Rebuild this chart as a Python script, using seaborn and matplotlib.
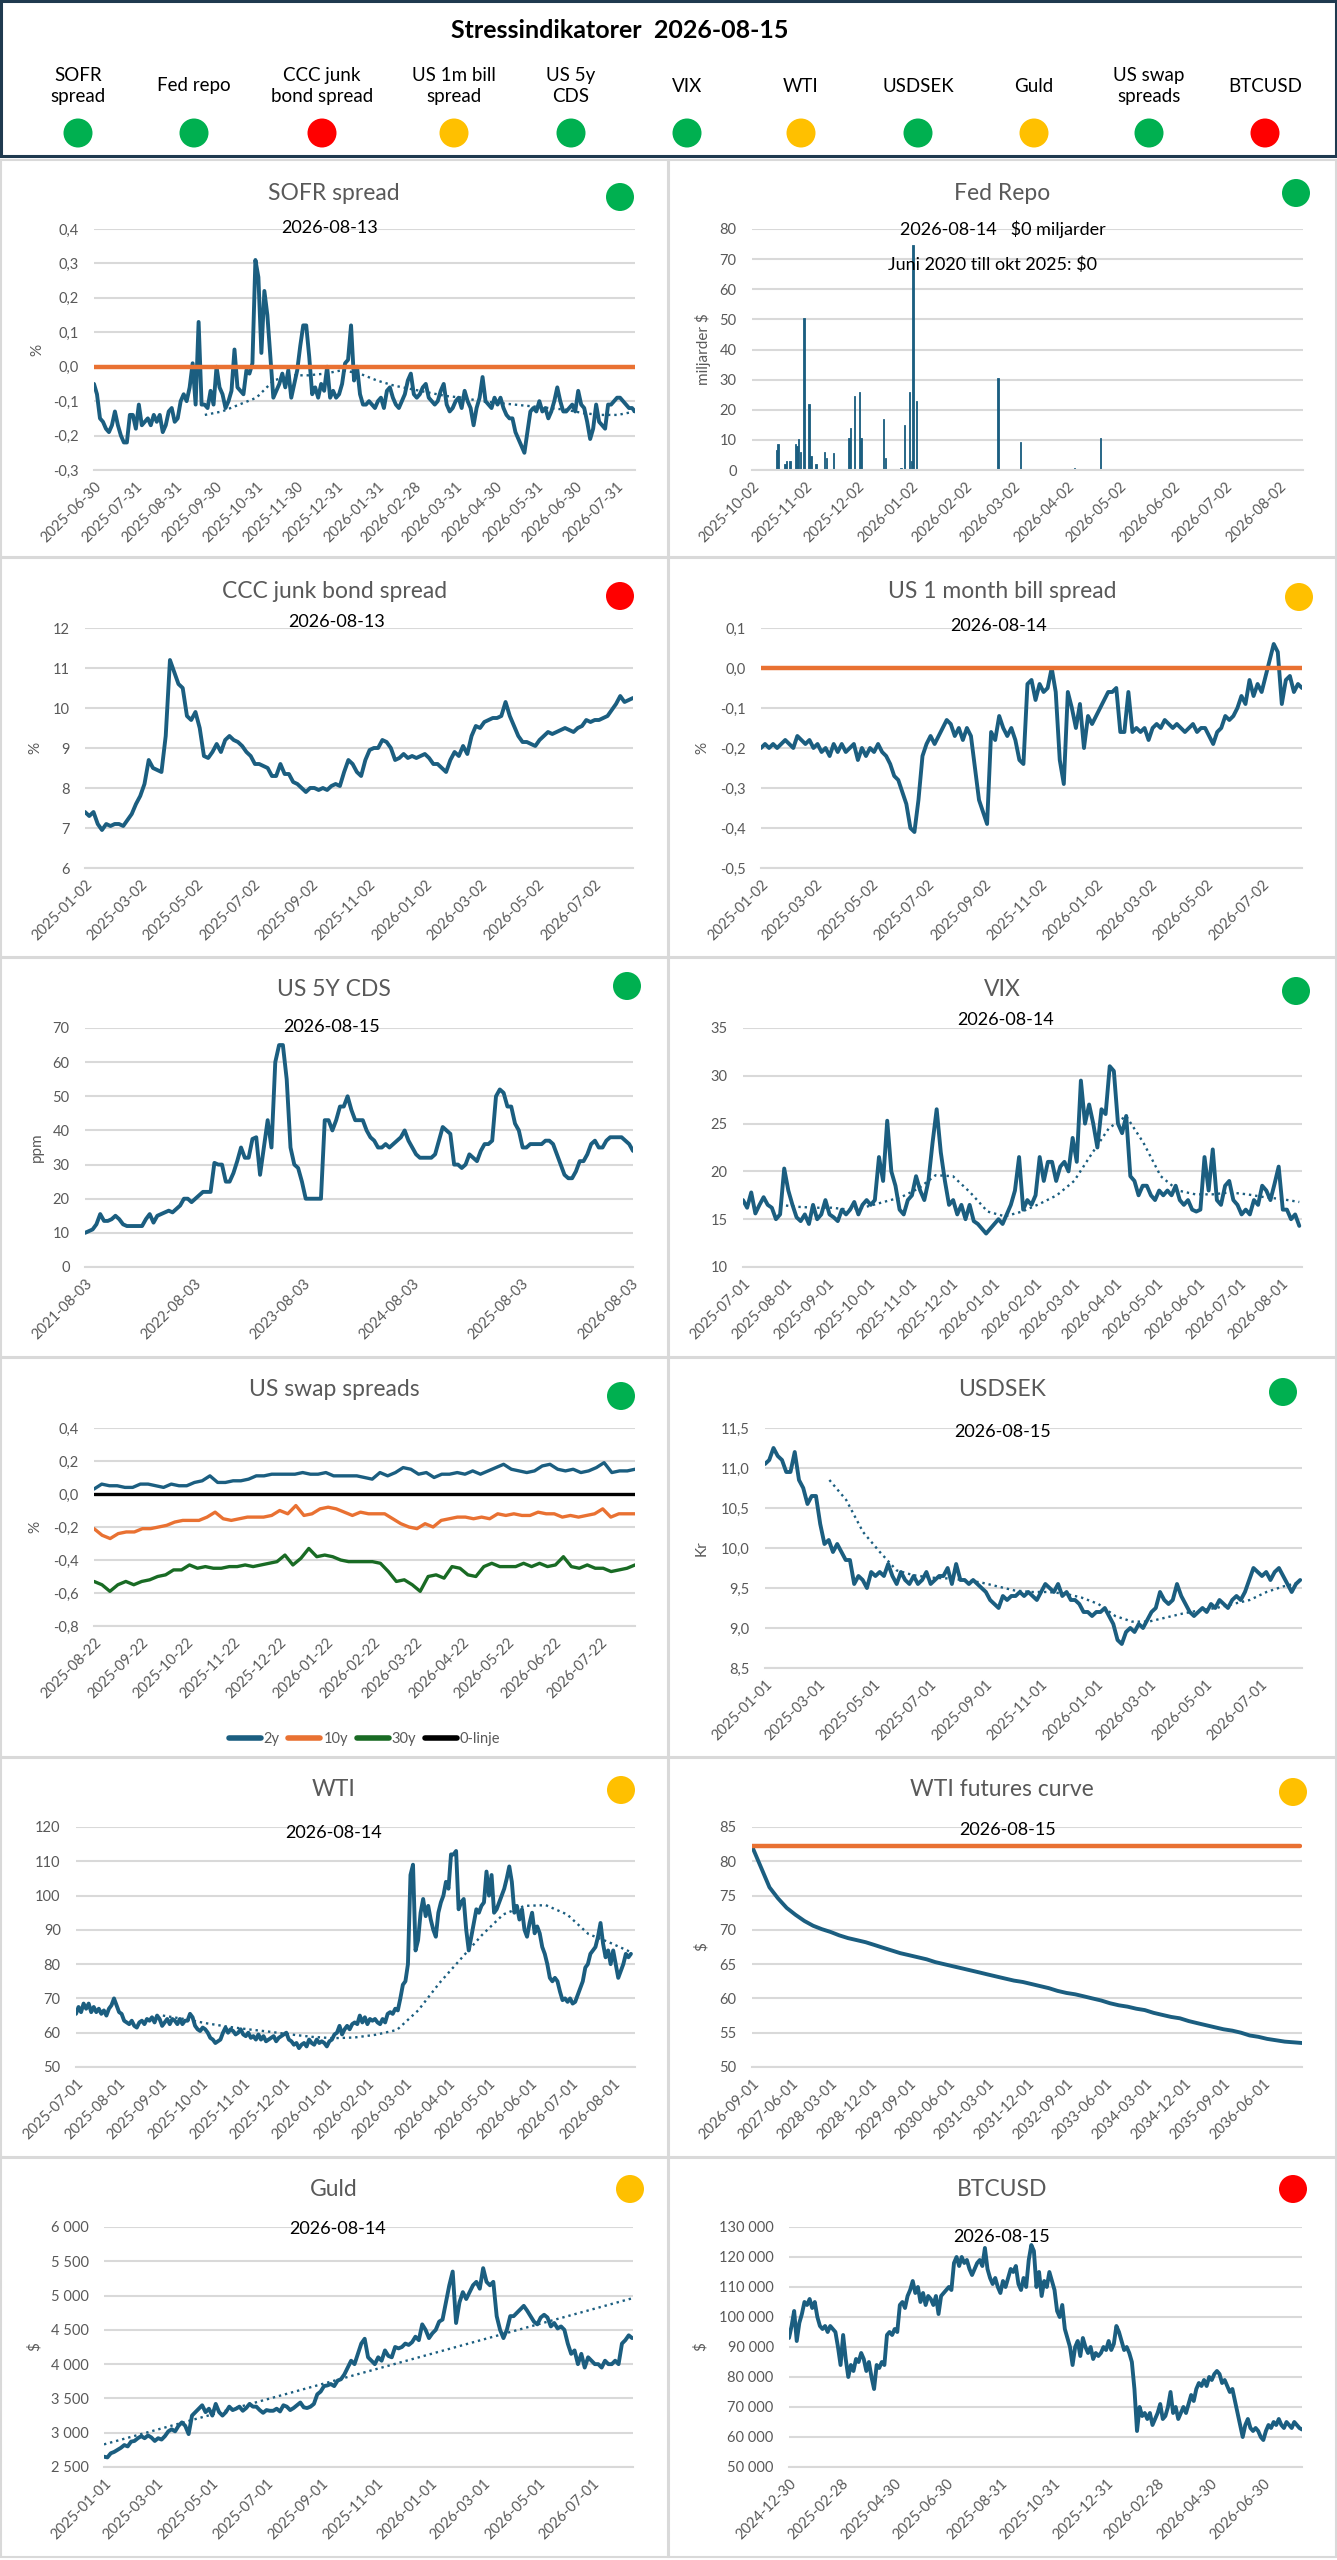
import numpy as np
import pandas as pd
import matplotlib
matplotlib.use('Agg')
import matplotlib.pyplot as plt
from matplotlib.patches import Rectangle, Circle
from matplotlib.ticker import FuncFormatter, MultipleLocator
import seaborn as sns

# ---------------- data ----------------
report_date = '2026-08-15'
header_names = ['SOFR\nspread', 'Fed repo', 'CCC junk\nbond spread', 'US 1m bill\nspread', 'US 5y\nCDS',
                'VIX', 'WTI', 'USDSEK', 'Guld', 'US swap\nspreads', 'BTCUSD']
header_status = ['g', 'g', 'r', 'y', 'g', 'g', 'y', 'g', 'y', 'g', 'r']

sofr = [-0.05, -0.08, -0.15, -0.16, -0.18, -0.19, -0.17, -0.13, -0.17, -0.20, -0.22, -0.22, -0.14, -0.14,
        -0.18, -0.11, -0.17, -0.16, -0.15, -0.17, -0.14, -0.16, -0.14, -0.19, -0.17, -0.13, -0.12, -0.16,
        -0.15, -0.10, -0.08, -0.10, -0.06, 0.01, -0.11, 0.13, -0.11, -0.11, -0.12, -0.07, -0.11, 0.00,
        -0.06, -0.08, -0.12, -0.10, -0.07, 0.05, -0.06, -0.07, -0.08, -0.01, -0.02, 0.01, 0.31, 0.26,
        0.04, 0.22, 0.15, 0.03, -0.09, -0.07, -0.05, -0.02, -0.06, -0.01, -0.09, -0.05, -0.01, 0.06,
        0.12, 0.12, 0.03, -0.08, -0.06, -0.09, -0.05, -0.07, 0.00, -0.09, -0.07, -0.09, -0.08, -0.05,
        0.01, 0.02, 0.12, -0.04, 0.00, -0.08, -0.11, -0.11, -0.10, -0.11, -0.12, -0.10, -0.09, -0.12,
        -0.07, -0.06, -0.09, -0.11, -0.12, -0.10, -0.08, -0.04, -0.02, -0.08, -0.09, -0.08, -0.06, -0.05,
        -0.09, -0.10, -0.11, -0.10, -0.07, -0.05, -0.11, -0.13, -0.12, -0.10, -0.09, -0.12, -0.07, -0.10,
        -0.12, -0.17, -0.12, -0.09, -0.03, -0.10, -0.11, -0.12, -0.09, -0.11, -0.09, -0.12, -0.14, -0.15,
        -0.15, -0.19, -0.21, -0.23, -0.25, -0.19, -0.13, -0.12, -0.13, -0.10, -0.13, -0.12, -0.15, -0.13,
        -0.10, -0.06, -0.10, -0.13, -0.13, -0.12, -0.11, -0.13, -0.07, -0.11, -0.12, -0.16, -0.21, -0.18,
        -0.11, -0.16, -0.17, -0.18, -0.11, -0.11, -0.10, -0.09, -0.09, -0.10, -0.11, -0.12, -0.12, -0.13]
sofr_ma = [-0.14, -0.13, -0.11, -0.09, -0.04, -0.025, -0.025, -0.02, -0.01, -0.02, -0.04, -0.055, -0.065,
           -0.075, -0.085, -0.09, -0.10, -0.105, -0.11, -0.115, -0.12, -0.125, -0.135, -0.14, -0.14, -0.13]

repo_dates = ['2025-10-16', '2025-10-17', '2025-10-21', '2025-10-22', '2025-10-24', '2025-10-27', '2025-10-28',
              '2025-10-29', '2025-10-30', '2025-11-01', '2025-11-04', '2025-11-05', '2025-11-08', '2025-11-13',
              '2025-11-14', '2025-11-18', '2025-11-27', '2025-11-28', '2025-11-30', '2025-12-03', '2025-12-04',
              '2025-12-17', '2025-12-18', '2025-12-27', '2025-12-29', '2026-01-01', '2026-01-02', '2026-01-03',
              '2026-01-05', '2026-02-21', '2026-03-06', '2026-04-06', '2026-04-21']
repo_vals = [6.8, 8.5, 2, 3, 3, 8.5, 8, 10.3, 6, 50.3, 22, 4.8, 2, 6, 4, 5.5, 10.5, 14, 24.5, 26, 10.5,
             16.8, 4, 0.5, 14.8, 26, 3, 74.6, 22.8, 30.5, 9.2, 0.8, 10.7]

ccc = [7.4, 7.3, 7.4, 7.1, 6.95, 7.1, 7.05, 7.1, 7.1, 7.05, 7.2, 7.35, 7.6, 7.8, 8.1, 8.7, 8.5, 8.45, 8.4,
       9.3, 11.2, 10.9, 10.6, 10.5, 9.8, 9.7, 9.9, 9.5, 8.8, 8.75, 8.9, 9.1, 8.9, 9.2, 9.3, 9.2, 9.15, 9.05,
       8.9, 8.8, 8.6, 8.6, 8.55, 8.5, 8.3, 8.3, 8.6, 8.35, 8.35, 8.15, 8.1, 8.0, 7.9, 8.0, 8.0, 7.95, 8.0,
       7.95, 8.05, 8.1, 8.05, 8.4, 8.7, 8.6, 8.4, 8.3, 8.7, 8.95, 9.0, 9.0, 9.2, 9.15, 9.0, 8.7, 8.75, 8.85,
       8.75, 8.8, 8.75, 8.8, 8.85, 8.75, 8.6, 8.6, 8.5, 8.4, 8.7, 8.9, 8.8, 9.05, 8.85, 9.3, 9.55, 9.5, 9.65,
       9.7, 9.75, 9.75, 9.8, 10.15, 9.8, 9.55, 9.3, 9.15, 9.15, 9.1, 9.05, 9.2, 9.3, 9.4, 9.35, 9.4, 9.45,
       9.5, 9.45, 9.4, 9.5, 9.55, 9.7, 9.65, 9.7, 9.7, 9.75, 9.8, 9.95, 10.1, 10.3, 10.15, 10.2, 10.25]

bill = [-0.20, -0.19, -0.20, -0.19, -0.20, -0.19, -0.18, -0.19, -0.20, -0.17, -0.18, -0.19, -0.18, -0.20,
        -0.19, -0.21, -0.20, -0.22, -0.19, -0.21, -0.19, -0.21, -0.20, -0.19, -0.23, -0.20, -0.22, -0.20,
        -0.21, -0.19, -0.21, -0.22, -0.24, -0.27, -0.28, -0.31, -0.34, -0.40, -0.41, -0.33, -0.22, -0.19,
        -0.17, -0.19, -0.17, -0.15, -0.13, -0.14, -0.17, -0.15, -0.18, -0.15, -0.17, -0.25, -0.33, -0.36,
        -0.39, -0.16, -0.18, -0.12, -0.15, -0.17, -0.15, -0.18, -0.23, -0.24, -0.04, -0.03, -0.08, -0.04,
        -0.06, -0.05, 0.00, -0.06, -0.23, -0.29, -0.06, -0.10, -0.15, -0.09, -0.20, -0.12, -0.14, -0.12,
        -0.10, -0.08, -0.06, -0.06, -0.05, -0.16, -0.16, -0.06, -0.16, -0.15, -0.16, -0.15, -0.18, -0.15,
        -0.14, -0.15, -0.13, -0.14, -0.15, -0.14, -0.15, -0.16, -0.15, -0.14, -0.16, -0.15, -0.15, -0.17,
        -0.19, -0.16, -0.15, -0.12, -0.13, -0.12, -0.10, -0.07, -0.09, -0.03, -0.07, -0.04, -0.06, -0.02,
        0.02, 0.06, 0.04, -0.09, -0.03, -0.02, -0.06, -0.04, -0.05]

cds = [10, 10.5, 11, 12.5, 15.5, 13.5, 13.5, 14, 15, 14, 12.5, 12, 12, 12, 12, 12, 14, 15.5, 13, 15, 15.5,
       16, 16.5, 16, 17, 18, 20, 20, 19, 20, 21, 22, 22, 22, 30.5, 30, 30, 25, 25, 27.5, 31, 35, 32, 32,
       37.5, 38, 27, 35, 43, 35, 60, 65, 65, 55, 35, 30, 29, 25, 20, 20, 20, 20, 20, 43, 43, 40, 43, 47,
       47, 50, 46, 43, 43, 43, 40, 38, 37, 35, 35, 36, 35, 36, 37, 38, 40, 37, 35, 33, 32, 32, 32, 32, 33,
       37, 41, 40, 39, 30, 30, 29, 30, 33, 32, 31, 34, 36, 36, 37, 50, 52, 51, 47, 47, 42, 40, 35, 35, 36,
       36, 36, 36, 37, 37, 36, 33, 30, 27, 26, 26, 28, 31, 31, 33, 36, 37, 35, 35, 37, 38, 38, 38, 38, 37,
       36, 34]

vix = [17, 16.2, 17.8, 15.6, 16.5, 17.3, 16.5, 16.2, 15, 15.5, 20.3, 18, 16.5, 15.2, 14.8, 15.5, 14.5, 16.5,
       15, 15.5, 17, 15.5, 15.2, 14.8, 16, 15.5, 16, 16.8, 15.5, 16.5, 17, 16.5, 17, 21.5, 19, 25.3, 20,
       18.5, 16, 15.5, 17, 17.5, 19.5, 18, 17, 19, 23, 26.5, 22, 19, 16.5, 17, 15.5, 16.5, 15, 16.5, 14.8,
       14.5, 14, 13.5, 14, 14.5, 15, 14.5, 15.5, 16.5, 18, 21.5, 16, 17, 16.5, 17.5, 21.5, 19, 21, 21, 19,
       20.5, 21, 20, 23.5, 21, 29.5, 25, 27, 25, 22.5, 26.5, 26, 31, 30.5, 25, 24, 25.8, 19.5, 19, 17.5,
       18.5, 18.5, 17.5, 17, 18, 17.5, 18, 17.5, 18.5, 17, 16.5, 17, 16, 15.8, 16, 21.5, 18, 22.3, 17, 16.5,
       18.5, 19, 17, 16.5, 15.5, 16, 15.5, 17, 16.5, 18.5, 18, 17, 18.7, 20.5, 16, 16, 15, 15.5, 14.3]
vix_ma = [16.5, 16.3, 16.2, 16.2, 16.0, 16.3, 16.8, 17.3, 18.2, 19.6, 19.5, 17.8, 15.8, 15.3, 15.8, 16.6,
          17.5, 19.0, 21.8, 24.5, 25.8, 23.0, 19.5, 18.0, 17.6, 17.6, 17.8, 17.6, 17.3, 17.1, 16.8]

swap_2y = [0.03, 0.06, 0.05, 0.05, 0.04, 0.04, 0.06, 0.06, 0.05, 0.04, 0.06, 0.05, 0.05, 0.07, 0.08, 0.11,
           0.07, 0.07, 0.08, 0.08, 0.09, 0.11, 0.11, 0.12, 0.12, 0.12, 0.12, 0.13, 0.12, 0.12, 0.13, 0.11,
           0.11, 0.11, 0.11, 0.10, 0.09, 0.13, 0.11, 0.13, 0.16, 0.15, 0.12, 0.13, 0.10, 0.12, 0.12, 0.13,
           0.12, 0.14, 0.12, 0.14, 0.16, 0.18, 0.15, 0.14, 0.13, 0.14, 0.17, 0.18, 0.15, 0.14, 0.15, 0.13,
           0.14, 0.16, 0.19, 0.13, 0.14, 0.14, 0.15]
swap_10y = [-0.21, -0.25, -0.27, -0.24, -0.23, -0.23, -0.21, -0.21, -0.20, -0.19, -0.17, -0.16, -0.16, -0.16,
            -0.14, -0.11, -0.15, -0.16, -0.15, -0.14, -0.14, -0.14, -0.13, -0.10, -0.12, -0.07, -0.13, -0.12,
            -0.09, -0.08, -0.09, -0.11, -0.13, -0.11, -0.12, -0.12, -0.12, -0.15, -0.18, -0.20, -0.21, -0.18,
            -0.20, -0.16, -0.15, -0.14, -0.14, -0.15, -0.14, -0.15, -0.12, -0.13, -0.12, -0.13, -0.13, -0.11,
            -0.12, -0.12, -0.14, -0.13, -0.14, -0.13, -0.12, -0.09, -0.14, -0.12, -0.12, -0.12]
swap_30y = [-0.53, -0.55, -0.59, -0.55, -0.53, -0.55, -0.53, -0.52, -0.50, -0.49, -0.46, -0.46, -0.43, -0.45,
            -0.44, -0.45, -0.45, -0.44, -0.44, -0.43, -0.44, -0.43, -0.42, -0.41, -0.37, -0.43, -0.39, -0.33,
            -0.38, -0.37, -0.38, -0.40, -0.41, -0.41, -0.41, -0.41, -0.42, -0.47, -0.53, -0.52, -0.55, -0.59,
            -0.50, -0.49, -0.51, -0.44, -0.45, -0.49, -0.50, -0.44, -0.42, -0.44, -0.44, -0.44, -0.42, -0.44,
            -0.42, -0.44, -0.43, -0.38, -0.44, -0.45, -0.43, -0.45, -0.45, -0.47, -0.46, -0.45, -0.43]
swap_zero = [0.0, 0.0]

usdsek = [11.05, 11.1, 11.25, 11.15, 11.1, 10.95, 10.95, 11.2, 10.85, 10.75, 10.55, 10.65, 10.65, 10.3, 10.05,
          10.1, 9.95, 10.05, 9.95, 9.85, 9.85, 9.55, 9.65, 9.6, 9.5, 9.7, 9.65, 9.7, 9.65, 9.8, 9.65, 9.55,
          9.7, 9.6, 9.55, 9.65, 9.55, 9.6, 9.7, 9.55, 9.6, 9.65, 9.65, 9.75, 9.55, 9.8, 9.6, 9.6, 9.55, 9.6,
          9.55, 9.5, 9.45, 9.35, 9.3, 9.25, 9.4, 9.35, 9.4, 9.4, 9.45, 9.4, 9.45, 9.4, 9.35, 9.45, 9.55, 9.5,
          9.45, 9.55, 9.4, 9.45, 9.35, 9.35, 9.3, 9.2, 9.2, 9.15, 9.2, 9.2, 9.25, 9.15, 9.05, 8.85, 8.8, 8.95,
          9.0, 8.95, 9.05, 9.0, 9.1, 9.2, 9.25, 9.45, 9.35, 9.3, 9.35, 9.55, 9.4, 9.3, 9.2, 9.15, 9.2, 9.25,
          9.2, 9.3, 9.25, 9.35, 9.3, 9.25, 9.35, 9.4, 9.35, 9.45, 9.6, 9.75, 9.7, 9.65, 9.7, 9.6, 9.7, 9.75,
          9.65, 9.55, 9.45, 9.55, 9.6]
usdsek_ma = [10.85, 10.6, 10.2, 9.95, 9.72, 9.66, 9.63, 9.62, 9.6, 9.57, 9.52, 9.47, 9.45, 9.45, 9.43,
             9.38, 9.3, 9.15, 9.08, 9.08, 9.13, 9.18, 9.22, 9.25, 9.3, 9.35, 9.45, 9.52, 9.57]

wti = [65.5, 67.5, 66, 68.5, 67, 68.5, 66, 67.5, 66, 67, 65.5, 66.5, 65, 67, 68, 70, 68, 66, 65.5, 63.5,
       63, 62.5, 63.5, 62, 61.5, 63, 63.5, 62.5, 64, 63.5, 64.5, 63, 65, 64, 62, 63, 64, 62.5, 64, 63.5,
       62.5, 64, 62.5, 63.5, 63.5, 65.5, 64.5, 62, 61, 60.5, 61.5, 61, 60, 58.5, 58, 57, 57.5, 58, 60, 61.5,
       60, 61, 60.5, 59.5, 60, 61, 59.5, 59, 60, 58.5, 59, 58, 59.5, 58, 59, 57.5, 58, 58.5, 59, 57.5, 58.5,
       59, 59.5, 60, 58, 57.5, 56.5, 57, 55.5, 56.5, 57, 56, 58, 57, 56.5, 58, 57, 57.5, 57, 56, 57.5, 58,
       59.5, 60, 62, 59.5, 61, 62, 61, 62.5, 63, 62.5, 65, 63, 64.5, 62.5, 64, 63.5, 64, 63, 62.5, 64, 63,
       65.5, 66, 65.5, 67, 66.5, 70, 74, 75, 80, 106, 109, 84, 87, 95, 99, 94, 97, 93, 90, 88, 95, 98, 100,
       104, 102, 112, 112, 113, 96, 98, 99, 90, 84, 88, 92, 96, 95, 97, 98, 107, 100, 106, 95, 96, 98, 100,
       102, 105, 108.5, 104, 95, 97, 93, 96, 90, 88, 92, 95, 89, 91, 89, 85, 83, 80, 76, 75, 76, 75, 72,
       69.5, 70, 69, 70, 68.5, 69, 71, 73, 75, 79, 80, 83, 84, 85, 88, 92, 86, 82, 84, 80, 84, 80, 76, 78,
       80, 83, 82, 83]
wti_ma = [65.0, 64.0, 62.8, 61.8, 61.0, 60.3, 59.5, 58.8, 58.4, 58.6, 59.4, 60.8, 66.5, 74.5, 81.5, 88.5,
          94.5, 97.0, 97.2, 94.5, 88.8, 86.3, 83.5]

futures = [82.2, 79.2, 76.2, 74.6, 73.2, 72.2, 71.3, 70.6, 70.1, 69.7, 69.2, 68.8, 68.5, 68.2, 67.8, 67.4,
           67.0, 66.6, 66.3, 66.0, 65.7, 65.3, 65.0, 64.7, 64.4, 64.1, 63.8, 63.5, 63.2, 62.9, 62.6, 62.4,
           62.1, 61.8, 61.5, 61.1, 60.8, 60.6, 60.3, 60.0, 59.7, 59.3, 59.0, 58.8, 58.5, 58.3, 57.9, 57.6,
           57.3, 57.1, 56.7, 56.4, 56.1, 55.8, 55.5, 55.3, 55.0, 54.6, 54.4, 54.1, 53.9, 53.7, 53.6, 53.5]
spot_level = [82.3, 82.3]

guld = [2650, 2640, 2700, 2720, 2750, 2780, 2820, 2800, 2870, 2880, 2920, 2950, 2920, 2960, 2930, 2880, 2920,
        2900, 2950, 3020, 3050, 3020, 3100, 3150, 3100, 2980, 3250, 3300, 3350, 3400, 3300, 3350, 3250, 3420,
        3300, 3250, 3300, 3380, 3330, 3350, 3380, 3320, 3360, 3420, 3380, 3380, 3330, 3290, 3330, 3320, 3320,
        3350, 3310, 3400, 3380, 3330, 3360, 3400, 3440, 3370, 3360, 3380, 3420, 3560, 3600, 3680, 3690, 3710,
        3680, 3760, 3780, 3850, 3950, 4050, 4000, 4150, 4300, 4370, 4100, 4050, 4000, 4100, 4050, 4200, 4120,
        4100, 4250, 4230, 4250, 4300, 4280, 4320, 4400, 4350, 4580, 4500, 4380, 4450, 4500, 4620, 4650, 4900,
        5150, 5350, 4600, 4900, 5050, 4950, 5050, 5150, 5200, 5100, 5400, 5200, 5150, 5200, 4700, 4500, 4380,
        4500, 4700, 4700, 4750, 4800, 4850, 4780, 4700, 4620, 4580, 4680, 4720, 4680, 4550, 4600, 4520, 4550,
        4500, 4300, 4150, 4200, 4000, 4150, 3950, 4100, 4050, 4000, 4000, 3950, 4050, 4000, 4000, 4050, 4000,
        4300, 4350, 4420, 4380]
guld_trend = [2830, 4960]

btc = [93000, 97000, 102000, 92000, 98000, 101000, 105000, 104000, 106000, 103000, 105000, 100000, 97000,
       96000, 97000, 95000, 97000, 96000, 95000, 90000, 84000, 94000, 86000, 80000, 84000, 82000, 86000,
       85000, 88000, 86000, 82000, 85000, 80000, 76000, 84000, 83000, 85000, 84000, 94000, 95000, 94000,
       96000, 95000, 104000, 105000, 103000, 107000, 109000, 112000, 108000, 110000, 105000, 108000, 104000,
       107000, 106000, 104000, 107000, 101000, 107000, 108000, 109000, 110000, 109000, 118000, 120000,
       117000, 120000, 118000, 119000, 116000, 114000, 116000, 118000, 119000, 117000, 123000, 116000,
       113000, 111000, 113000, 110000, 108000, 112000, 110000, 113000, 116000, 115000, 117000, 111000,
       109000, 113000, 110000, 119000, 124000, 122000, 110000, 115000, 107000, 112000, 110000, 115000,
       112000, 109000, 102000, 100000, 104000, 96000, 93000, 90000, 84000, 90000, 92000, 87000, 93000,
       90000, 88000, 90000, 86000, 88000, 87000, 88000, 90000, 89000, 92000, 89000, 91000, 97000, 95000,
       92000, 89000, 90000, 88000, 85000, 76000, 62000, 70000, 67000, 68000, 66000, 68000, 64000, 66000,
       68000, 71000, 66000, 67000, 70000, 75000, 68000, 70000, 66000, 68000, 70000, 68000, 71000, 74000,
       72000, 76000, 78000, 77000, 79000, 77000, 80000, 79000, 81000, 82000, 81000, 78000, 79000, 77000,
       75000, 76000, 72000, 68000, 64000, 60000, 64000, 66000, 63000, 62000, 63000, 62000, 60000, 59000,
       62000, 64000, 63000, 65000, 64000, 66000, 64000, 63000, 65000, 64000, 63000, 65000, 64000, 63000,
       62500]

ticks_sofr = ['2025-06-30', '2025-07-31', '2025-08-31', '2025-09-30', '2025-10-31', '2025-11-30', '2025-12-31',
              '2026-01-31', '2026-02-28', '2026-03-31', '2026-04-30', '2026-05-31', '2026-06-30', '2026-07-31']
ticks_repo = ['2025-10-02', '2025-11-02', '2025-12-02', '2026-01-02', '2026-02-02', '2026-03-02', '2026-04-02',
              '2026-05-02', '2026-06-02', '2026-07-02', '2026-08-02']
ticks_02 = ['2025-01-02', '2025-03-02', '2025-05-02', '2025-07-02', '2025-09-02', '2025-11-02', '2026-01-02',
            '2026-03-02', '2026-05-02', '2026-07-02']
ticks_cds = ['2021-08-03', '2022-08-03', '2023-08-03', '2024-08-03', '2025-08-03', '2026-08-03']
ticks_monthly = ['2025-07-01', '2025-08-01', '2025-09-01', '2025-10-01', '2025-11-01', '2025-12-01',
                 '2026-01-01', '2026-02-01', '2026-03-01', '2026-04-01', '2026-05-01', '2026-06-01',
                 '2026-07-01', '2026-08-01']
ticks_swap = ['2025-08-22', '2025-09-22', '2025-10-22', '2025-11-22', '2025-12-22', '2026-01-22', '2026-02-22',
              '2026-03-22', '2026-04-22', '2026-05-22', '2026-06-22', '2026-07-22']
ticks_01 = ['2025-01-01', '2025-03-01', '2025-05-01', '2025-07-01', '2025-09-01', '2025-11-01', '2026-01-01',
            '2026-03-01', '2026-05-01', '2026-07-01']
ticks_fut = ['2026-09-01', '2027-06-01', '2028-03-01', '2028-12-01', '2029-09-01', '2030-06-01', '2031-03-01',
             '2031-12-01', '2032-09-01', '2033-06-01', '2034-03-01', '2034-12-01', '2035-09-01', '2036-06-01']
ticks_btc = ['2024-12-30', '2025-02-28', '2025-04-30', '2025-06-30', '2025-08-31', '2025-10-31', '2025-12-31',
             '2026-02-28', '2026-04-30', '2026-06-30']

# ---------------- style ----------------
sns.set_style('white')
plt.rcParams['font.family'] = ['Lato', 'DejaVu Sans']

BLUE = '#1B5E80'
ORANGE = '#E97132'
DKGREEN = '#196B24'
GRID = '#D9D9D9'
TXT = '#595959'
DOTC = {'g': '#00B050', 'y': '#FFC000', 'r': '#FF0000'}

W, H = 1337, 2560
fig = plt.figure(figsize=(W / 100, H / 100), dpi=100)
fig.patch.set_facecolor('white')


def add_ax(l, t, r, b):
    return fig.add_axes([l / W, 1 - b / H, (r - l) / W, (b - t) / H])


def dec(v, p):
    s = f'{v:.1f}'
    if s == '-0.0':
        s = '0.0'
    return s.replace('.', ',')


fmt_dec = FuncFormatter(dec)
fmt_int = FuncFormatter(lambda v, p: f'{v:.0f}')
fmt_thou = FuncFormatter(lambda v, p: f'{v:,.0f}'.replace(',', ' '))


def line(ax, start, end, vals, dotted=False, color=BLUE, lw=2.8):
    x = pd.date_range(start, end, periods=len(vals))
    if dotted:
        sns.lineplot(x=x, y=vals, ax=ax, color=color, lw=1.7, linestyle=':')
    else:
        sns.lineplot(x=x, y=vals, ax=ax, color=color, lw=lw)


def setup(ax, box, xlim, ticks, ylim, step, fmt, ylabel=None, ylab_px=None):
    l, t, r, b = box
    ax.set_xlim(pd.Timestamp(xlim[0]), pd.Timestamp(xlim[1]))
    ax.set_ylim(*ylim)
    ax.yaxis.set_major_locator(MultipleLocator(step))
    ax.yaxis.set_major_formatter(fmt)
    ax.set_xticks(pd.to_datetime(ticks))
    ax.set_xticklabels(ticks)
    ax.grid(axis='y', color=GRID, lw=1.5)
    ax.grid(axis='x', visible=False)
    ax.set_axisbelow(True)
    for s in ['top', 'left', 'right']:
        ax.spines[s].set_visible(False)
    ax.spines['bottom'].set_color(GRID)
    ax.spines['bottom'].set_linewidth(1.5)
    ax.tick_params(axis='x', direction='out', length=5, width=1.2, color=GRID,
                   labelsize=10.5, labelcolor=TXT, pad=2)
    ax.tick_params(axis='y', length=0, labelsize=10.5, labelcolor=TXT, pad=11)
    plt.setp(ax.get_xticklabels(), rotation=45, ha='right', rotation_mode='anchor')
    ax.set_xlabel('')
    ax.set_ylabel(ylabel if ylabel else '', color=TXT, fontsize=11)
    if ylabel:
        ax.yaxis.set_label_coords((ylab_px - l) / (r - l), 0.5)


# ---- SOFR spread ----
box = (94, 229, 635, 470)
ax = add_ax(*box)
line(ax, '2025-06-30', '2026-08-14', sofr)
line(ax, '2025-09-22', '2026-08-14', sofr_ma, dotted=True)
sns.lineplot(x=pd.to_datetime(['2025-06-30', '2026-08-14']), y=[0, 0], ax=ax, color=ORANGE, lw=3.2)
setup(ax, box, ('2025-06-30', '2026-08-14'), ticks_sofr, (-0.3, 0.4), 0.1, fmt_dec, '%', 44)

# ---- Fed repo ----
box = (752, 229, 1303, 470)
ax = add_ax(*box)
ax.bar(pd.to_datetime(repo_dates), repo_vals, width=0.8, color=BLUE, edgecolor=BLUE, linewidth=0.6)
setup(ax, box, ('2025-10-02', '2026-08-16'), ticks_repo, (0, 80), 10, fmt_int, 'miljarder $', 711)

# ---- CCC junk bond spread ----
box = (85, 628, 633, 868)
ax = add_ax(*box)
line(ax, '2025-01-02', '2026-08-13', ccc)
setup(ax, box, ('2025-01-02', '2026-08-13'), ticks_02, (6, 12), 1, fmt_int, '%', 42)

# ---- US 1 month bill spread ----
box = (761, 628, 1302, 868)
ax = add_ax(*box)
line(ax, '2025-01-02', '2026-08-14', bill)
sns.lineplot(x=pd.to_datetime(['2025-01-02', '2026-08-14']), y=[0, 0], ax=ax, color=ORANGE, lw=3.2)
setup(ax, box, ('2025-01-02', '2026-08-14'), ticks_02, (-0.5, 0.1), 0.1, fmt_dec, '%', 709)

# ---- US 5Y CDS ----
box = (85, 1028, 633, 1267)
ax = add_ax(*box)
line(ax, '2021-08-03', '2026-08-10', cds)
setup(ax, box, ('2021-08-03', '2026-08-10'), ticks_cds, (0, 70), 10, fmt_int, 'ppm', 44)

# ---- VIX ----
box = (743, 1028, 1302, 1267)
ax = add_ax(*box)
line(ax, '2025-07-01', '2026-08-14', vix)
line(ax, '2025-07-28', '2026-08-14', vix_ma, dotted=True)
setup(ax, box, ('2025-07-01', '2026-08-16'), ticks_monthly, (10, 35), 5, fmt_int)

# ---- US swap spreads ----
box = (94, 1428, 635, 1626)
ax = add_ax(*box)
frames = []
for name, vals in [('2y', swap_2y), ('10y', swap_10y), ('30y', swap_30y), ('0-linje', swap_zero)]:
    frames.append(pd.DataFrame({'datum': pd.date_range('2025-08-22', '2026-08-14', periods=len(vals)),
                                'spread': vals, 'serie': name}))
swap = pd.concat(frames, ignore_index=True)
sns.lineplot(data=swap, x='datum', y='spread', hue='serie', palette=[BLUE, ORANGE, DKGREEN, 'black'],
             lw=2.4, ax=ax)
ax.lines[-1].set_linewidth(3.2)
sns.move_legend(ax, 'upper center', bbox_to_anchor=(0.5, -0.47), ncol=4, frameon=False, title=None,
                fontsize=10.5, handlelength=2.2, columnspacing=0.6, handletextpad=0.2)
for lg in ax.get_legend().get_lines():
    lg.set_linewidth(4)
for tx in ax.get_legend().get_texts():
    tx.set_color(TXT)
setup(ax, box, ('2025-08-22', '2026-08-14'), ticks_swap, (-0.8, 0.4), 0.2, fmt_dec, '%', 42)

# ---- USDSEK ----
box = (765, 1428, 1302, 1668)
ax = add_ax(*box)
line(ax, '2025-01-01', '2026-08-14', usdsek)
line(ax, '2025-03-13', '2026-08-14', usdsek_ma, dotted=True)
setup(ax, box, ('2025-01-01', '2026-08-16'), ticks_01, (8.5, 11.5), 0.5, fmt_dec, 'Kr', 709)

# ---- WTI ----
box = (76, 1827, 635, 2067)
ax = add_ax(*box)
line(ax, '2025-07-01', '2026-08-14', wti)
line(ax, '2025-09-03', '2026-08-14', wti_ma, dotted=True)
setup(ax, box, ('2025-07-01', '2026-08-17'), ticks_monthly, (50, 120), 10, fmt_int)

# ---- WTI futures curve ----
box = (752, 1827, 1302, 2067)
ax = add_ax(*box)
sns.lineplot(x=pd.date_range('2026-09-01', periods=len(futures), freq='2MS'), y=futures, ax=ax,
             color=BLUE, lw=2.8)
sns.lineplot(x=pd.to_datetime(['2026-09-01', '2037-02-15']), y=spot_level, ax=ax, color=ORANGE, lw=3.2)
setup(ax, box, ('2026-09-01', '2037-03-01'), ticks_fut, (50, 85), 5, fmt_int, '$', 709)

# ---- Guld ----
box = (104, 2227, 633, 2467)
ax = add_ax(*box)
line(ax, '2025-01-01', '2026-08-14', guld)
line(ax, '2025-01-01', '2026-08-14', guld_trend, dotted=True)
setup(ax, box, ('2025-01-01', '2026-08-15'), ticks_01, (2500, 6000), 500, fmt_thou, '$', 42)

# ---- BTCUSD ----
box = (789, 2227, 1302, 2467)
ax = add_ax(*box)
line(ax, '2024-12-30', '2026-08-14', btc)
setup(ax, box, ('2024-12-30', '2026-08-14'), ticks_btc, (50000, 130000), 10000, fmt_thou, '$', 708)

# ---------------- overlay: frames, titles, status dots, notes ----------------
ov = fig.add_axes([0, 0, 1, 1])
ov.set_xlim(0, W)
ov.set_ylim(H, 0)
ov.axis('off')

row_tops = [160, 558, 958, 1358, 1758, 2158, 2558]
for i in range(6):
    for x0, x1 in [(1, 668), (669, 1336)]:
        ov.add_patch(Rectangle((x0, row_tops[i]), x1 - x0, row_tops[i + 1] - row_tops[i] - 1,
                               fill=False, ec=GRID, lw=1.5))
ov.add_patch(Rectangle((1, 1), W - 2, 155, fill=False, ec='#1F3A4F', lw=2.2))

ov.text(620, 30, f'Stressindikatorer  {report_date}', ha='center', va='center', fontsize=18,
        fontweight='bold', color='black')
header_x = [78, 194, 322, 454, 571, 687, 801, 918, 1034, 1149, 1265]
for x, name, st in zip(header_x, header_names, header_status):
    ov.text(x, 86, name, ha='center', va='center', fontsize=13.5, linespacing=1.35, color='black')
    ov.add_patch(Circle((x, 133), 14.5, color=DOTC[st], lw=0))

titles = [('SOFR spread', 334, 193, 620, 197, 'g'), ('Fed Repo', 1002, 193, 1296, 193, 'g'),
          ('CCC junk bond spread', 335, 591, 620, 596, 'r'), ('US 1 month bill spread', 1002, 591, 1299, 597, 'y'),
          ('US 5Y CDS', 334, 989, 627, 986, 'g'), ('VIX', 1002, 989, 1296, 991, 'g'),
          ('US swap spreads', 334, 1390, 621, 1396, 'g'), ('USDSEK', 1002, 1390, 1283, 1392, 'g'),
          ('WTI', 334, 1790, 621, 1790, 'y'), ('WTI futures curve', 1002, 1790, 1293, 1792, 'y'),
          ('Guld', 334, 2190, 630, 2189, 'y'), ('BTCUSD', 1002, 2190, 1293, 2189, 'r')]
for name, tx, ty, dx, dy, st in titles:
    ov.text(tx, ty, name, ha='center', va='center', fontsize=16.5, color=TXT)
    ov.add_patch(Circle((dx, dy), 14, color=DOTC[st], lw=0))

notes = [('2026-08-13', 330, 228), ('2026-08-14   $0 miljarder', 1003, 229),
         ('Juni 2020 till okt 2025: $0', 993, 265), ('2026-08-13', 337, 622), ('2026-08-14', 999, 626),
         ('2026-08-15', 332, 1027), ('2026-08-14', 1006, 1020), ('2026-08-15', 1003, 1432),
         ('2026-08-14', 334, 1833), ('2026-08-15', 1008, 1830), ('2026-08-14', 338, 2229),
         ('2026-08-15', 1002, 2237)]
for s, x, y in notes:
    ov.text(x, y, s, ha='center', va='center', fontsize=13, color='black')

fig.savefig('out.png', dpi=100)
